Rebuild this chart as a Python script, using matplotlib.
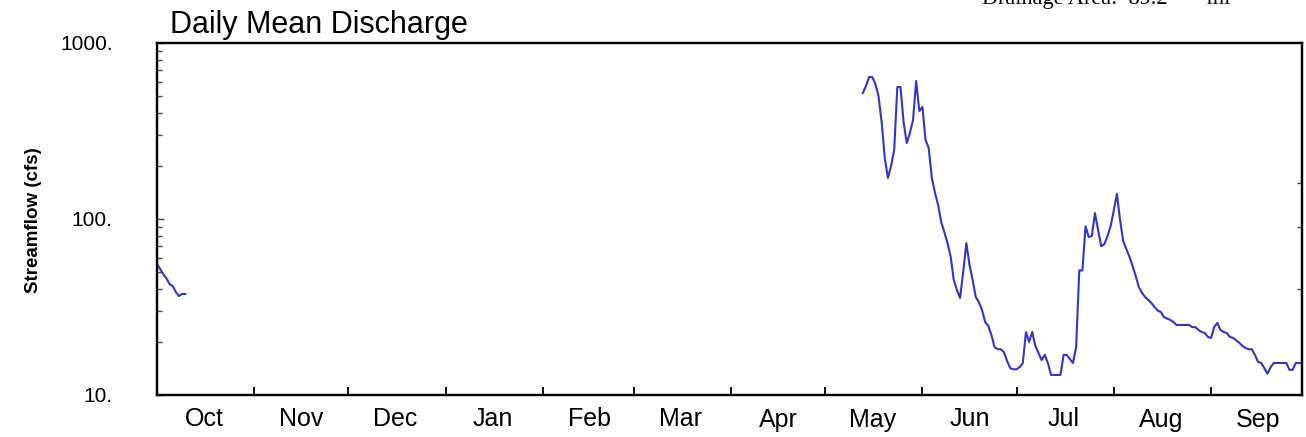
import numpy as np
import matplotlib
matplotlib.use("Agg")
import matplotlib.pyplot as plt
import matplotlib.dates as mdates
from matplotlib.ticker import FixedLocator, FuncFormatter, LogLocator, NullFormatter

# Caudal medio diario (cfs)
INICIO_OCT = "2019-10-01"
CAUDAL_OCT = [55.5, 52, 48.6, 46, 42.7, 41.6, 38.5, 36.5, 37.5, 37.5]

INICIO_VERANO = "2020-05-13"
CAUDAL_MAY = [520, 570, 641, 641, 585, 500, 356, 222, 171, 200, 247, 562, 562, 356,
              270, 308, 365, 608, 411]
CAUDAL_JUN = [433, 281, 253, 171, 141, 120, 96, 84, 73, 61, 45, 39.5, 35.6, 50, 73,
              55, 45, 36, 33.7, 30.4, 26, 24.7, 21.9, 18.7, 18.2, 18.2, 17.5, 15.6,
              14.2, 14.0]
CAUDAL_JUL = [14.0, 14.4, 15.2, 22.8, 20.0, 22.8, 19.0, 17.3, 15.8, 16.9, 15.2, 13.0,
              13.0, 13.0, 13.0, 16.9, 16.9, 16.0, 15.2, 18.7, 51, 51, 91, 79, 80, 108,
              86.6, 70, 72, 80, 91]
CAUDAL_AGO = [112, 139, 98.5, 75, 67.5, 61, 54, 47.4, 41, 38, 36, 34.7, 33.3, 31.6,
              30.2, 29.6, 27.7, 27.2, 26.7, 26, 25, 25, 25, 25, 25, 24.3, 24.3, 23.4,
              22.8, 22.5, 21.4]
CAUDAL_SEP = [21.1, 24.3, 25.7, 23.4, 22.8, 22.5, 21.4, 21.1, 20.5, 19.8, 19.0, 18.5,
              18.2, 18.2, 16.9, 15.4, 15.2, 14.2, 13.2, 14.4, 15.2, 15.2, 15.2, 15.2,
              15.2, 13.9, 13.9, 15.2, 15.2, 15.2]

Y_TICKS = [10, 100, 1000]
TICKS_DERECHA = [40, 90, 160]

TITULO = "Daily Mean Discharge"
ETIQUETA_Y = "Streamflow (cfs)"
AREA = "Drainage Area:  89.2       mi\u00b2"

COLOR_LINEA = "#3434C8"
W, H = 1306, 437


def fechas(inicio, n):
    return np.datetime64(inicio) + np.arange(n)


def main():
    plt.rcParams["font.family"] = ["Liberation Sans", "DejaVu Sans"]

    fig = plt.figure(figsize=(W / 100, H / 100), dpi=100)
    ax = fig.add_axes([157 / W, 1 - 395 / H, (1302 - 157) / W, (395 - 43) / H])

    verano = CAUDAL_MAY + CAUDAL_JUN + CAUDAL_JUL + CAUDAL_AGO + CAUDAL_SEP
    ax.plot(fechas(INICIO_OCT, len(CAUDAL_OCT)), CAUDAL_OCT, color=COLOR_LINEA, lw=1.5)
    ax.plot(fechas(INICIO_VERANO, len(verano)), verano, color=COLOR_LINEA, lw=1.5)

    ax.set_yscale("log")
    ax.set_ylim(10, 1000)
    ax.set_xlim(np.datetime64("2019-10-01"), np.datetime64("2020-09-30"))

    ax.yaxis.set_major_locator(FixedLocator(Y_TICKS))
    ax.yaxis.set_major_formatter(FuncFormatter(lambda v, p: f"{int(round(v))}."))
    ax.yaxis.set_minor_locator(LogLocator(base=10, subs=np.arange(2, 10)))
    ax.yaxis.set_minor_formatter(NullFormatter())
    ax.tick_params(axis="y", which="major", direction="in", length=5, width=1,
                   color="#444444", labelsize=15, pad=32, right=False)
    ax.tick_params(axis="y", which="minor", direction="in", length=3.5, width=1,
                   color="#444444", right=False)

    ax.xaxis.set_major_locator(mdates.MonthLocator(bymonthday=1))
    ax.xaxis.set_major_formatter(NullFormatter())
    ax.xaxis.set_minor_locator(mdates.MonthLocator(bymonthday=16))
    ax.xaxis.set_minor_formatter(mdates.DateFormatter("%b"))
    ax.tick_params(axis="x", which="major", direction="in", length=6, width=1.3,
                   color="black", top=False)
    ax.tick_params(axis="x", which="minor", length=0, labelsize=18, pad=9, top=False)

    # marcas cortas del lado derecho
    ax2 = ax.twinx()
    ax2.set_yscale("log")
    ax2.set_ylim(10, 1000)
    ax2.yaxis.set_major_locator(FixedLocator(TICKS_DERECHA))
    ax2.yaxis.set_major_formatter(NullFormatter())
    ax2.yaxis.set_minor_locator(FixedLocator([]))
    ax2.tick_params(axis="y", which="major", direction="in", length=3.5, width=1,
                    color="#444444")

    for a in (ax, ax2):
        for s in a.spines.values():
            s.set_linewidth(1.6)
            s.set_color("black")

    fig.text(170 / W, 1 - 33 / H, TITULO, fontsize=22, va="baseline", ha="left")
    fig.text(34 / W, 1 - 220 / H, ETIQUETA_Y, fontsize=13.5, fontweight="bold",
             rotation=90, ha="center", va="center")
    fig.text(982 / W, 1 - 4 / H, AREA, fontsize=16, va="baseline", ha="left",
             family="Liberation Serif")

    fig.savefig("out.png", dpi=100)


if __name__ == "__main__":
    main()
